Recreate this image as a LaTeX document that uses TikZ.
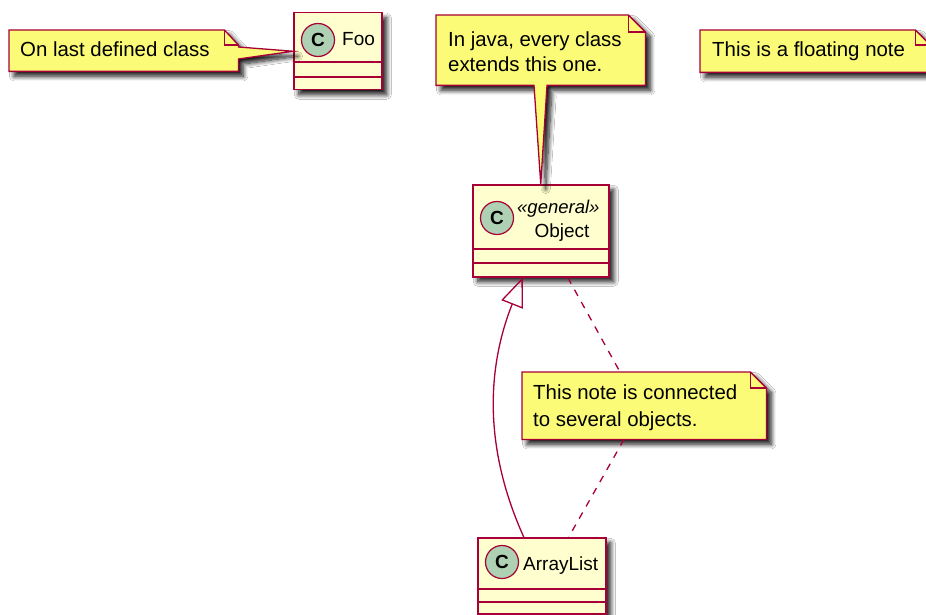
\documentclass[tikz,border=0pt]{standalone}
\usepackage{fontspec}
\setmainfont{Liberation Sans}
\usetikzlibrary{arrows.meta,shadows.blur,calc}

\definecolor{umlborder}{HTML}{A80036}
\definecolor{classfill}{HTML}{FEFECE}
\definecolor{notefill}{HTML}{FBFB77}
\definecolor{spotfill}{HTML}{ADD1B2}

\newcommand{\notefont}{\fontsize{20.4}{25}\selectfont}
\newcommand{\namefont}{\fontsize{19}{23}\selectfont}

\tikzset{
  umlshadow/.style={blur shadow={shadow xshift=5pt, shadow yshift=-5pt,
      shadow blur steps=12, shadow blur radius=4.5pt, shadow opacity=90}},
  classbox/.style={rectangle, draw=umlborder, fill=classfill, line width=1.5pt,
      inner sep=0pt, anchor=north west, umlshadow},
  divider/.style={draw=umlborder, line width=1.5pt},
  spot/.style={circle, draw=umlborder, fill=spotfill, line width=1.2pt,
      minimum size=33pt, inner sep=0pt, font=\fontsize{19}{19}\selectfont\bfseries},
  notearea/.style={rectangle, inner sep=0pt, anchor=north west},
  noteshape/.style={draw=umlborder, fill=notefill, line width=1.3pt, line join=miter, umlshadow},
  foldline/.style={draw=umlborder, line width=1.3pt},
  notetext/.style={anchor=base west, inner sep=0pt, font=\notefont},
  nametext/.style={anchor=base west, inner sep=0pt, font=\namefont},
  stereotext/.style={anchor=base west, inner sep=0pt, font=\fontsize{18.5}{22}\selectfont\itshape},
  dashlink/.style={draw=umlborder, line width=1.3pt, dash pattern=on 7pt off 7pt},
  inherit/.style={draw=umlborder, line width=1.3pt,
      -{Triangle[open, length=29pt, width=23pt, line width=1.3pt]}},
}

\begin{document}
\begin{tikzpicture}[x=1pt, y=-1pt]
  \fill[white] (0,0) rectangle (926,615);
  \useasboundingbox (0,0) rectangle (926,615);

  % ---------- classes ----------
  \node[classbox, minimum width=88pt, minimum height=77pt] (foo) at (293,12) {};
  \draw[divider] ([yshift=-50pt]foo.north west) -- ([yshift=-50pt]foo.north east);
  \draw[divider] ([yshift=-65pt]foo.north west) -- ([yshift=-65pt]foo.north east);
  \node[spot] (foospot) at (318,40) {C};
  \node[nametext] (fooname) at (342,46) {Foo};

  \node[classbox, minimum width=136pt, minimum height=92pt] (object) at (472,184) {};
  \draw[divider] ([yshift=-65pt]object.north west) -- ([yshift=-65pt]object.north east);
  \draw[divider] ([yshift=-79pt]object.north west) -- ([yshift=-79pt]object.north east);
  \node[spot] (objspot) at (497,218) {C};
  \node[stereotext] (objstereo) at (517,213) {«general»};
  \node[nametext, anchor=base] (objname) at (562,237) {Object};

  \node[classbox, minimum width=128pt, minimum height=76pt] (arraylist) at (477,537) {};
  \draw[divider] ([yshift=-52pt]arraylist.north west) -- ([yshift=-52pt]arraylist.north east);
  \draw[divider] ([yshift=-65pt]arraylist.north west) -- ([yshift=-65pt]arraylist.north east);
  \node[spot] (alspot) at (502,562) {C};
  \node[nametext] (alname) at (523,570) {ArrayList};

  % ---------- notes ----------
  % note attached to Foo
  \node[notearea, minimum width=229pt, minimum height=41pt] (n1) at (9,30) {};
  \draw[noteshape] (n1.north west) -- ([xshift=-14pt]n1.north east)
    -- ([yshift=-15pt]n1.north east) -- ([yshift=-17pt]n1.north east)
    -- (foo.west) -- ([yshift=-29pt]n1.north east)
    -- (n1.south east) -- (n1.south west) -- cycle;
  \draw[foldline] ([xshift=-14pt]n1.north east) |- ([yshift=-15pt]n1.north east);
  \node[notetext] (t1) at (20,57) {On last defined class};

  % note attached to Object
  \node[notearea, minimum width=209pt, minimum height=70pt] (n2) at (436,15) {};
  \draw[noteshape] (n2.north west) -- ([xshift=-17pt]n2.north east)
    -- ([yshift=-17pt]n2.north east) -- (n2.south east)
    -- ([xshift=111pt]n2.south west) -- (object.north)
    -- ([xshift=98pt]n2.south west) -- (n2.south west) -- cycle;
  \draw[foldline] ([xshift=-17pt]n2.north east) |- ([yshift=-17pt]n2.north east);
  \node[notetext] (t2a) at (448,47) {In java, every class};
  \node[notetext] (t2b) at (448,72) {extends this one.};

  % floating note
  \node[notearea, minimum width=230pt, minimum height=42pt] (n3) at (700,30) {};
  \draw[noteshape] (n3.north west) -- ([xshift=-15pt]n3.north east)
    -- ([yshift=-15pt]n3.north east) -- (n3.south east)
    -- (n3.south west) -- cycle;
  \draw[foldline] ([xshift=-15pt]n3.north east) |- ([yshift=-15pt]n3.north east);
  \node[notetext] (t3) at (712,57) {This is a floating note};

  % note linked to Object and ArrayList
  \node[notearea, minimum width=244pt, minimum height=67pt] (n4) at (522,372) {};
  \draw[noteshape] (n4.north west) -- ([xshift=-16pt]n4.north east)
    -- ([yshift=-16pt]n4.north east) -- (n4.south east)
    -- (n4.south west) -- cycle;
  \draw[foldline] ([xshift=-16pt]n4.north east) |- ([yshift=-16pt]n4.north east);
  \node[notetext] (t4a) at (533,399) {This note is connected};
  \node[notetext] (t4b) at (533,426) {to several objects.};

  % ---------- connectors ----------
  \draw[inherit] ([xshift=-18pt]arraylist.north)
    .. controls (480,440) and (490,360) .. ([xshift=-18pt]object.south);
  \draw[dashlink] ([xshift=27pt]object.south) -- ([xshift=98pt]n4.north west);
  \draw[dashlink] ([xshift=102pt]n4.south west) -- ([xshift=27pt]arraylist.north);
\end{tikzpicture}
\end{document}
